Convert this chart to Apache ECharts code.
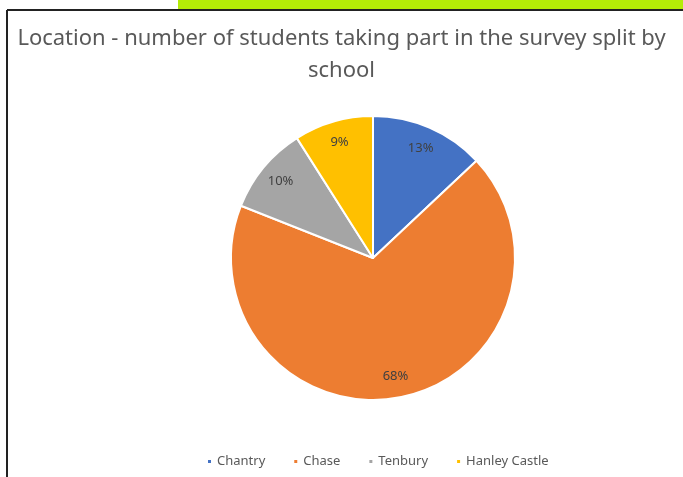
<!DOCTYPE html>
<html>
<head>
<meta charset="utf-8">
<script src="https://cdn.jsdelivr.net/npm/echarts@6/dist/echarts.min.js"></script>
<style>html,body{margin:0;padding:0;background:#fff}#c{width:683px;height:477px}</style>
</head>
<body>
<div id="c"></div>
<script>
const titleText = 'Location - number of students taking part in the survey split by\nschool';
const schools = ['Chantry', 'Chase', 'Tenbury', 'Hanley Castle'];
const shares = [13, 68, 10, 9];
const colors = ['#4472C4', '#ED7D31', '#A5A5A5', '#FFC000'];

const data = schools.map((n, i) => ({ name: n, value: shares[i], itemStyle: { color: colors[i] } }));
const font = '"Noto Sans", Lato, sans-serif';

const chart = echarts.init(document.getElementById('c'), null, { renderer: 'canvas' });
chart.setOption({
  backgroundColor: '#fff',
  animation: false,
  title: {
    text: titleText,
    left: 'center',
    top: 18,
    textStyle: { fontFamily: font, fontSize: 22, fontWeight: 'normal', color: '#595959', lineHeight: 32, align: 'center' }
  },
  legend: {
    data: schools,
    bottom: 4,
    left: 201,
    icon: 'rect',
    itemWidth: 5,
    itemHeight: 5,
    itemGap: 27,
    textStyle: { fontFamily: font, fontSize: 13, color: '#595959' }
  },
  graphic: [
    { type: 'rect', shape: { x: 178, y: 0, width: 505, height: 9 }, style: { fill: '#B4EC07' }, silent: true },
    { type: 'line', shape: { x1: 7, y1: 10, x2: 683, y2: 10 }, style: { stroke: '#222', lineWidth: 2 }, silent: true },
    { type: 'line', shape: { x1: 7, y1: 10, x2: 7, y2: 477 }, style: { stroke: '#222', lineWidth: 2 }, silent: true }
  ],
  series: [
    {
      type: 'pie',
      center: [373, 258],
      radius: [0, 142],
      startAngle: 90,
      clockwise: true,
      silent: true,
      itemStyle: { borderColor: '#fff', borderWidth: 2 },
      label: { show: false },
      labelLine: { show: false },
      data: data
    },
    {
      type: 'pie',
      center: [373, 258],
      radius: [92, 142],
      startAngle: 90,
      clockwise: true,
      silent: true,
      itemStyle: { color: 'rgba(0,0,0,0)', borderWidth: 0 },
      label: {
        show: true,
        position: 'inside',
        formatter: '{d}%',
        fontFamily: font,
        fontSize: 13,
        color: '#404040'
      },
      labelLine: { show: false },
      data: schools.map((n, i) => ({ name: n, value: shares[i] }))
    }
  ]
});
</script>
</body>
</html>
